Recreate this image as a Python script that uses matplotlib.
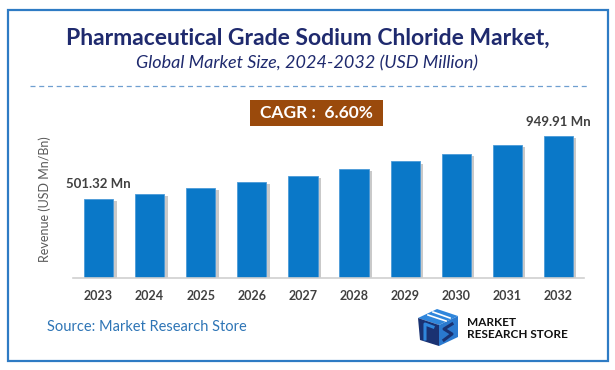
import matplotlib.pyplot as plt
import matplotlib.patches as mpatches
import matplotlib.patheffects as pe
import numpy as np

years = ["2023", "2024", "2025", "2026", "2027", "2028", "2029", "2030", "2031", "2032"]
revenue = [501.32, 538.2, 577.8, 620.3, 666.0, 715.0, 767.6, 824.1, 884.8, 949.91]
labels = {0: "501.32 Mn", 9: "949.91 Mn"}

title = "Pharmaceutical Grade Sodium Chloride Market,"
subtitle = "Global Market Size, 2024-2032 (USD Million)"
cagr = "CAGR :  6.60%"
source = "Source: Market Research Store"

plt.rcParams['font.family'] = ['Lato', 'DejaVu Sans']

W, H = 615, 370
fig = plt.figure(figsize=(W / 100, H / 100), dpi=100)

def fx(x):
    return x / W

def fy(y):
    return 1 - y / H

# outer border
fig.patches.append(mpatches.Rectangle((fx(8), fy(361)), fx(600), 351 / H, transform=fig.transFigure,
                                      fill=False, edgecolor="#2e7bc4", linewidth=1.6))

fig.text(fx(308), fy(38), title, ha="center", va="center", fontsize=16.5, fontweight="bold", color="#1f2a6e")
fig.text(fx(307), fy(63), subtitle, ha="center", va="center", fontsize=13, style="italic", color="#1f2a6e")
fig.add_artist(plt.Line2D([fx(30), fx(588)], [fy(86), fy(86)], transform=fig.transFigure,
                          color="#6f9fd0", linewidth=0.9, linestyle=(0, (4, 3))))

# CAGR box
fig.patches.append(mpatches.Rectangle((fx(250), fy(126)), fx(133), 26 / H, transform=fig.transFigure,
                                      facecolor="#9a4a0c", edgecolor="none"))
fig.text(fx(316), fy(113), cagr, ha="center", va="center", fontsize=12.5, fontweight="bold", color="white")

# chart
ax = fig.add_axes([fx(73), fy(278), fx(584 - 73), (278 - 120) / H])
y0 = -66
x = np.arange(len(years))
vals = np.array(revenue)
bars = ax.bar(x, vals - y0, bottom=y0, width=0.57, color="#0a78c8", edgecolor="#4a9ad8", linewidth=0.6)
for b in bars:
    b.set_path_effects([pe.SimplePatchShadow(offset=(2.5, -1.5), shadow_rgbFace="#888888", alpha=0.45), pe.Normal()])
for i, t in labels.items():
    ax.text(x[i], vals[i] + 60, t, ha="center", va="bottom", fontsize=9.5, fontweight="bold", color="#404040")
ax.set_xlim(-0.5, 9.5)
ax.set_ylim(y0, 1064)
ax.set_xticks(x)
ax.set_xticklabels(years, fontsize=9, fontweight="bold", color="#404040")
ax.tick_params(axis="x", length=0, pad=9)
ax.set_yticks([])
for s in ["top", "right", "left"]:
    ax.spines[s].set_visible(False)
ax.spines["bottom"].set_color("#d0d0d0")
ax.spines["bottom"].set_linewidth(1.2)
ax.set_ylabel("Revenue (USD Mn/Bn)", fontsize=9, color="#595959", labelpad=16)

fig.text(fx(47), fy(327), source, ha="left", va="center", fontsize=10.5, color="#2e75b6")

# logo: cube mark
cube_top = [(418, 318), (437, 309), (458, 316), (439, 325)]
cube_left = [(418, 318), (439, 325), (439, 346), (420, 340)]
cube_right = [(439, 325), (458, 316), (458, 337), (439, 346)]
for pts, col in [(cube_top, "#2f86dc"), (cube_left, "#1a3272"), (cube_right, "#2a79cf")]:
    fig.patches.append(mpatches.Polygon([(fx(a), fy(b)) for a, b in pts], closed=True,
                                        transform=fig.transFigure, facecolor=col, edgecolor="none"))
for (a1, b1, a2, b2) in [(428, 315, 446, 321), (433, 312, 450, 318)]:
    fig.add_artist(plt.Line2D([fx(a1), fx(a2)], [fy(b1), fy(b2)], transform=fig.transFigure,
                              color="white", linewidth=1.2))
fig.add_artist(plt.Line2D([fx(425), fx(425), fx(433)], [fy(339), fy(324), fy(327)], transform=fig.transFigure,
                          color="#2f86dc", linewidth=2.2))
fig.add_artist(plt.Line2D([fx(452), fx(444), fx(452), fx(444)], [fy(324), fy(329), fy(334), fy(340)],
                          transform=fig.transFigure, color="#1a3272", linewidth=2.2))
fig.text(fx(467), fy(322), "MARKET", ha="left", va="center", fontsize=8.5, fontweight="bold", color="#111111")
fig.text(fx(467), fy(334), "RESEARCH STORE", ha="left", va="center", fontsize=8.5, fontweight="bold", color="#111111")

fig.savefig("out.png", dpi=100)
